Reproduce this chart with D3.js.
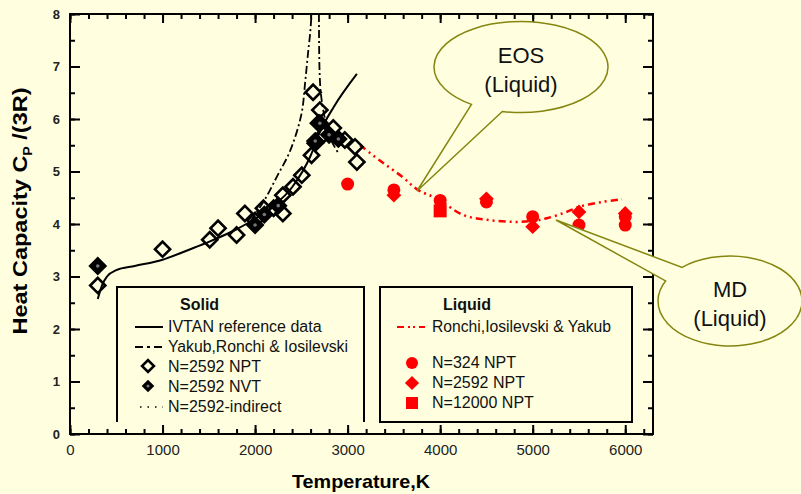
<!DOCTYPE html>
<html>
<head>
<meta charset="utf-8">
<script src="https://cdn.jsdelivr.net/npm/d3@7"></script>
<style>
  body { margin: 0; background: #ffffe0; }
  svg { display: block; font-family: Arial, "Liberation Sans", sans-serif; }
</style>
</head>
<body>
<div id="chart"></div>
<script>
// ---- data (temperature K, Cp/(3R)) ----
const ivtan = [[300, 2.57], [350, 2.85], [400, 3.0], [500, 3.12], [700, 3.2], [1000, 3.32],
  [1300, 3.52], [1500, 3.66], [1800, 3.9], [2000, 4.1], [2200, 4.35], [2400, 4.7],
  [2600, 5.3], [2700, 5.75], [2850, 6.23], [3100, 6.86]];
const yakubLeft = [[1950, 4.05], [2100, 4.45], [2250, 4.95], [2350, 5.28], [2450, 5.75],
  [2505, 6.13], [2540, 6.68], [2575, 7.3], [2595, 7.63], [2610, 8.0]];
const yakubRight = [[2690, 8.0], [2692, 7.4], [2697, 6.9], [2710, 6.5], [2750, 6.05],
  [2820, 5.6], [2900, 5.35]];
const liquidEos = [[3135, 5.5], [3370, 5.18], [3590, 4.9], [3760, 4.65], [3970, 4.48],
  [4250, 4.17], [4510, 4.08], [4790, 4.04], [5000, 4.06], [5155, 4.11], [5350, 4.22],
  [5510, 4.33], [5750, 4.42], [5965, 4.47]];
const solidNpt = [[300, 2.83], [1000, 3.52], [1510, 3.7], [1600, 3.92], [1800, 3.79],
  [1890, 4.2], [2000, 4.07], [2090, 4.3], [2200, 4.3], [2300, 4.2], [2300, 4.55],
  [2410, 4.71], [2505, 4.93], [2610, 5.31], [2650, 5.54], [2627, 6.51], [2700, 6.17],
  [2685, 5.92], [2740, 5.7], [2845, 5.83], [2970, 5.6], [3080, 5.47], [3100, 5.18]];
const solidNvt = [[300, 3.2], [2000, 3.98], [2100, 4.18], [2250, 4.35], [2650, 5.58],
  [2700, 5.92], [2800, 5.7], [2900, 5.62]];
const liq324 = [[3000, 4.76], [3500, 4.65], [4000, 4.45], [4500, 4.42], [5000, 4.14],
  [5500, 3.98], [6000, 4.14], [6000, 3.98]];
const liq2592 = [[3500, 4.55], [4500, 4.48], [5000, 3.95], [5500, 4.23], [6000, 4.2]];
const liq12000 = [[4000, 4.25]];
const xTicks = [0, 1000, 2000, 3000, 4000, 5000, 6000];
const yTicks = [0, 1, 2, 3, 4, 5, 6, 7, 8];
const solidLegend = ["IVTAN reference data", "Yakub,Ronchi & Iosilevski", "N=2592 NPT", "N=2592 NVT", "N=2592-indirect"];
const liquidLegend = ["Ronchi,Iosilevski & Yakub", "N=324 NPT", "N=2592 NPT", "N=12000 NPT"];

const W = 801, H = 494;
const bg = "#ffffe0", olive = "#858510", red = "#ff0000";

const svg = d3.select("#chart").append("svg").attr("width", W).attr("height", H);
svg.append("rect").attr("width", W).attr("height", H).attr("fill", bg);

const x = d3.scaleLinear().domain([0, 6300]).range([70, 653]);
const y = d3.scaleLinear().domain([0, 8]).range([434, 14]);

const minorX = d3.range(0, 6301, 200);
const minorY = d3.range(0, 8.01, 0.5);

// axes: all ticks point inwards
function axisG(axis, tx, ty) {
  const g = svg.append("g").attr("transform", `translate(${tx},${ty})`).call(axis);
  g.select(".domain").remove();
  g.selectAll("line").attr("stroke", "#000").attr("stroke-width", 2);
  return g;
}
axisG(d3.axisBottom(x).tickValues(minorX).tickSize(-5).tickFormat(""), 0, 434);
axisG(d3.axisTop(x).tickValues(minorX).tickSize(-5).tickFormat(""), 0, 14);
axisG(d3.axisLeft(y).tickValues(minorY).tickSize(-5).tickFormat(""), 70, 0);
axisG(d3.axisRight(y).tickValues(minorY).tickSize(-5).tickFormat(""), 653, 0);
const bx = axisG(d3.axisBottom(x).tickValues(xTicks).tickSize(-9).tickPadding(10).tickFormat(d3.format("d")), 0, 434);
axisG(d3.axisTop(x).tickValues(xTicks).tickSize(-9).tickFormat(""), 0, 14);
const ly = axisG(d3.axisLeft(y).tickValues(yTicks).tickSize(-10).tickPadding(10).tickFormat(d3.format("d")), 70, 0);
axisG(d3.axisRight(y).tickValues(yTicks).tickSize(-10).tickFormat(""), 653, 0);
bx.selectAll("text").attr("font-size", 15).attr("fill", "#222").attr("font-family", "Arial, 'Liberation Sans'");
ly.selectAll("text").attr("font-size", 13).attr("font-weight", "bold").attr("fill", "#222").attr("font-family", "Arial, 'Liberation Sans'");

svg.append("rect").attr("x", 70).attr("y", 14).attr("width", 583).attr("height", 420)
  .attr("fill", "none").attr("stroke", "#000").attr("stroke-width", 2);

// axis titles
svg.append("text").attr("x", 361).attr("y", 488).attr("text-anchor", "middle")
  .attr("font-size", 19).attr("font-weight", "bold").attr("textLength", 138)
  .attr("lengthAdjust", "spacingAndGlyphs").text("Temperature,K");
const yl = svg.append("text").attr("transform", "translate(27,211) rotate(-90)")
  .attr("text-anchor", "middle").attr("font-size", 20).attr("font-weight", "bold")
  .attr("textLength", 247).attr("lengthAdjust", "spacingAndGlyphs");
yl.append("tspan").text("Heat Capacity C");
yl.append("tspan").attr("font-size", 12).attr("dy", 5).text("P");
yl.append("tspan").attr("dy", -5).text(" /(3R)");

// lines
const line = d3.line().x(d => x(d[0])).y(d => y(d[1])).curve(d3.curveMonotoneX);
const lineY = d3.line().x(d => x(d[0])).y(d => y(d[1])).curve(d3.curveMonotoneY);
const lineSmooth = d3.line().x(d => x(d[0])).y(d => y(d[1])).curve(d3.curveCatmullRom);
svg.append("path").attr("d", line(ivtan)).attr("fill", "none").attr("stroke", "#000").attr("stroke-width", 2);
[yakubLeft, yakubRight].forEach(s => {
  svg.append("path").attr("d", lineY(s)).attr("fill", "none").attr("stroke", "#000")
    .attr("stroke-width", 1.8).attr("stroke-dasharray", "8,3,2,3");
});
svg.append("path").attr("d", lineSmooth(liquidEos)).attr("fill", "none").attr("stroke", red)
  .attr("stroke-width", 2.5).attr("stroke-dasharray", "7,4,2,4,2,4");

// markers
const diamond = d3.symbol(d3.symbolSquare, 115);
svg.selectAll(".npt").data(solidNpt).join("path").attr("class", "npt")
  .attr("d", diamond).attr("transform", d => `translate(${x(d[0])},${y(d[1])}) rotate(45)`)
  .attr("fill", "none").attr("stroke", "#000").attr("stroke-width", 2.6);
svg.selectAll(".nvt").data(solidNvt).join("path").attr("class", "nvt")
  .attr("d", diamond).attr("transform", d => `translate(${x(d[0])},${y(d[1])}) rotate(45)`)
  .attr("fill", "#000").attr("stroke", "#000").attr("stroke-width", 2.6);
svg.selectAll(".nvtdot").data(solidNvt).join("circle").attr("class", "nvtdot")
  .attr("cx", d => x(d[0])).attr("cy", d => y(d[1])).attr("r", 1.8).attr("fill", "#777");

svg.selectAll(".l324").data(liq324).join("circle").attr("class", "l324")
  .attr("cx", d => x(d[0])).attr("cy", d => y(d[1])).attr("r", 6.5).attr("fill", red);
svg.selectAll(".l2592").data(liq2592).join("path").attr("class", "l2592")
  .attr("d", d3.symbol(d3.symbolSquare, 110))
  .attr("transform", d => `translate(${x(d[0])},${y(d[1])}) rotate(45)`).attr("fill", red);
svg.selectAll(".l12000").data(liq12000).join("rect").attr("class", "l12000")
  .attr("x", d => x(d[0]) - 6.5).attr("y", d => y(d[1]) - 6.5)
  .attr("width", 13).attr("height", 13).attr("fill", red);

// legends
svg.append("path").attr("d", "M117,422V287H364V422").attr("fill", "none")
  .attr("stroke", "#000").attr("stroke-width", 2);
svg.append("rect").attr("x", 380).attr("y", 287).attr("width", 252).attr("height", 135)
  .attr("fill", "none").attr("stroke", "#000").attr("stroke-width", 2);
const lg = svg.append("g").attr("font-size", 16).attr("fill", "#111");
lg.append("text").attr("x", 180).attr("y", 310).attr("font-weight", "bold").text("Solid");
lg.append("text").attr("x", 443).attr("y", 310).attr("font-weight", "bold").text("Liquid");
const sRows = [332, 352, 372, 392, 412];
solidLegend.forEach((t, i) => {
  lg.append("text").attr("x", 168).attr("y", sRows[i]).attr("textLength", i === 1 ? 180 : null)
    .attr("lengthAdjust", "spacingAndGlyphs").text(t);
});
lg.append("line").attr("x1", 135).attr("x2", 163).attr("y1", 327).attr("y2", 327)
  .attr("stroke", "#000").attr("stroke-width", 2);
lg.append("line").attr("x1", 135).attr("x2", 163).attr("y1", 347).attr("y2", 347)
  .attr("stroke", "#000").attr("stroke-width", 2).attr("stroke-dasharray", "8,4,3,4");
lg.append("path").attr("d", diamond.size(70)).attr("transform", "translate(148,366) rotate(45)")
  .attr("fill", "none").attr("stroke", "#000").attr("stroke-width", 2.6);
lg.append("path").attr("d", diamond.size(80)).attr("transform", "translate(148,386) rotate(45)")
  .attr("fill", "#000");
lg.append("circle").attr("cx", 148).attr("cy", 386).attr("r", 1.6).attr("fill", "#777");
lg.append("line").attr("x1", 140).attr("x2", 163).attr("y1", 407).attr("y2", 407)
  .attr("stroke", "#000").attr("stroke-width", 1.5).attr("stroke-dasharray", "1.5,6");

const lRows = [332, 368, 388, 408];
liquidLegend.forEach((t, i) => {
  lg.append("text").attr("x", 432).attr("y", lRows[i]).attr("textLength", i === 0 ? 179 : null)
    .attr("lengthAdjust", "spacingAndGlyphs").text(t);
});
lg.append("line").attr("x1", 397).attr("x2", 425).attr("y1", 327).attr("y2", 327)
  .attr("stroke", red).attr("stroke-width", 2).attr("stroke-dasharray", "7,4,2,3,2,4");
lg.append("circle").attr("cx", 412).attr("cy", 363).attr("r", 6).attr("fill", red);
lg.append("path").attr("d", d3.symbol(d3.symbolSquare, 100)).attr("transform", "translate(412,383) rotate(45)").attr("fill", red);
lg.append("rect").attr("x", 406).attr("y", 397).attr("width", 12).attr("height", 12).attr("fill", red);

// callouts
function callout(cx, cy, rx, ry, ta, tb, tip, lines, ty) {
  const p = a => [cx + rx * Math.cos(a * Math.PI / 180), cy + ry * Math.sin(a * Math.PI / 180)];
  const A = p(ta), B = p(tb);
  const d = `M${A[0]},${A[1]} A${rx},${ry} 0 1 1 ${B[0]},${B[1]} L${tip[0]},${tip[1]} Z`;
  svg.append("path").attr("d", d).attr("fill", bg).attr("stroke", olive).attr("stroke-width", 1.5);
  lines.forEach((t, i) => {
    svg.append("text").attr("x", cx).attr("y", ty[i]).attr("text-anchor", "middle")
      .attr("font-size", 22).attr("fill", "#111").text(t);
  });
}
callout(521, 67, 87, 45.5, 124.7, 102.4, [417, 191], ["EOS", "(Liquid)"], [63, 92]);
callout(730, 301, 72, 45, 228.3, 206.5, [556, 220], ["MD", "(Liquid)"], [297, 326]);
</script>
</body>
</html>
